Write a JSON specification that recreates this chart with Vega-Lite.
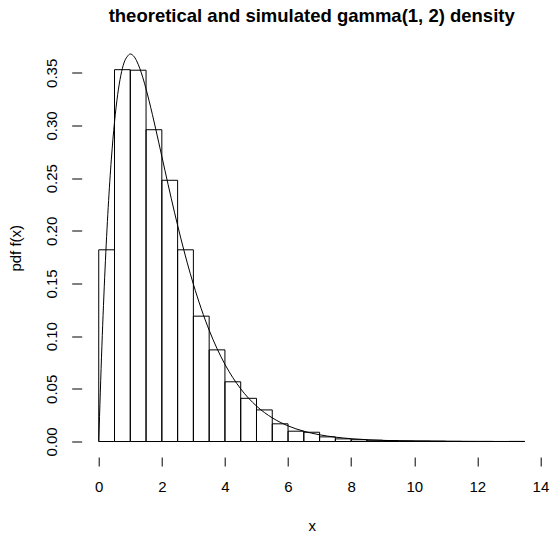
{
  "$schema": "https://vega.github.io/schema/vega-lite/v6.json",
  "width": 460,
  "height": 418.5,
  "autosize": {"type": "none"},
  "padding": {"left": 81.7, "top": 38.5, "right": 8.3, "bottom": 76},
  "background": "white",
  "config": {
    "font": "Liberation Sans",
    "view": {"stroke": null},
    "axis": {"grid": false, "domain": false, "tickColor": "black", "labelColor": "black", "titleColor": "black", "labelFont": "Liberation Sans", "titleFont": "Liberation Sans", "labelFontSize": 15, "titleFontSize": 15, "titleFontWeight": "normal", "tickWidth": 1}
  },
  "title": {"text": "theoretical and simulated gamma(1, 2) density", "fontSize": 18.5, "fontWeight": "bold", "font": "Liberation Sans", "anchor": "middle", "baseline": "alphabetic", "offset": 17, "dy": 18.5, "frame": "group", "color": "black"},
  "datasets": {
    "hist": [
      {"lo": 0, "hi": 0.5, "density": 0.182},
      {"lo": 0.5, "hi": 1, "density": 0.353},
      {"lo": 1, "hi": 1.5, "density": 0.3525},
      {"lo": 1.5, "hi": 2, "density": 0.296},
      {"lo": 2, "hi": 2.5, "density": 0.248},
      {"lo": 2.5, "hi": 3, "density": 0.182},
      {"lo": 3, "hi": 3.5, "density": 0.119},
      {"lo": 3.5, "hi": 4, "density": 0.087},
      {"lo": 4, "hi": 4.5, "density": 0.0567},
      {"lo": 4.5, "hi": 5, "density": 0.041},
      {"lo": 5, "hi": 5.5, "density": 0.030},
      {"lo": 5.5, "hi": 6, "density": 0.0168},
      {"lo": 6, "hi": 6.5, "density": 0.0098},
      {"lo": 6.5, "hi": 7, "density": 0.0088},
      {"lo": 7, "hi": 7.5, "density": 0.0044},
      {"lo": 7.5, "hi": 8, "density": 0.0025},
      {"lo": 8, "hi": 8.5, "density": 0.0017},
      {"lo": 8.5, "hi": 9, "density": 0.0012},
      {"lo": 9, "hi": 9.5, "density": 0.0009},
      {"lo": 9.5, "hi": 10, "density": 0.0006},
      {"lo": 10, "hi": 10.5, "density": 0.0005},
      {"lo": 10.5, "hi": 11, "density": 0.0004},
      {"lo": 11, "hi": 11.5, "density": 0.0002},
      {"lo": 11.5, "hi": 12, "density": 0.0001},
      {"lo": 12, "hi": 12.5, "density": 0.0001},
      {"lo": 12.5, "hi": 13, "density": 0.0},
      {"lo": 13, "hi": 13.5, "density": 0.0001}
    ],
    "curve": [
      {"x": 0, "f": 0},
      {"x": 0.1, "f": 0.09048},
      {"x": 0.2, "f": 0.16375},
      {"x": 0.3, "f": 0.22225},
      {"x": 0.4, "f": 0.26813},
      {"x": 0.5, "f": 0.30327},
      {"x": 0.6, "f": 0.32929},
      {"x": 0.7, "f": 0.34761},
      {"x": 0.8, "f": 0.35946},
      {"x": 0.9, "f": 0.36528},
      {"x": 1.0, "f": 0.36788},
      {"x": 1.1, "f": 0.36616},
      {"x": 1.2, "f": 0.36143},
      {"x": 1.3, "f": 0.35429},
      {"x": 1.4, "f": 0.34524},
      {"x": 1.5, "f": 0.3347},
      {"x": 1.6, "f": 0.32303},
      {"x": 1.7, "f": 0.31056},
      {"x": 1.8, "f": 0.29754},
      {"x": 1.9, "f": 0.28418},
      {"x": 2.0, "f": 0.27067},
      {"x": 2.2, "f": 0.24377},
      {"x": 2.4, "f": 0.21772},
      {"x": 2.6, "f": 0.19311},
      {"x": 2.8, "f": 0.17027},
      {"x": 3.0, "f": 0.14936},
      {"x": 3.25, "f": 0.12602},
      {"x": 3.5, "f": 0.10569},
      {"x": 3.75, "f": 0.08819},
      {"x": 4.0, "f": 0.07326},
      {"x": 4.5, "f": 0.04999},
      {"x": 5.0, "f": 0.03369},
      {"x": 5.5, "f": 0.02248},
      {"x": 6.0, "f": 0.01487},
      {"x": 6.5, "f": 0.00977},
      {"x": 7.0, "f": 0.00638},
      {"x": 7.5, "f": 0.00415},
      {"x": 8.0, "f": 0.00268},
      {"x": 9.0, "f": 0.00111},
      {"x": 10.0, "f": 0.00045},
      {"x": 11.0, "f": 0.000184},
      {"x": 12.0, "f": 0.0000737},
      {"x": 13.5, "f": 0.0000185}
    ]
  },
  "layer": [
    {
      "data": {"name": "hist"},
      "mark": {"type": "rect", "fill": null, "fillOpacity": 0, "stroke": "black", "strokeWidth": 1},
      "encoding": {
        "x": {"field": "lo", "type": "quantitative", "scale": {"domain": [-0.54, 14.04], "nice": false, "zero": false},
          "axis": {"values": [0, 2, 4, 6, 8, 10, 12, 14], "title": "x", "tickSize": 9, "labelBaseline": "middle", "labelPadding": 20, "titleY": 68, "titleBaseline": "middle", "format": "d", "labelFlush": false}},
        "x2": {"field": "hi"},
        "y": {"field": "density", "type": "quantitative", "scale": {"domain": [-0.0147, 0.3826], "nice": false, "zero": false},
          "axis": {"values": [0, 0.05, 0.1, 0.15, 0.2, 0.25, 0.3, 0.35], "format": ".2f", "title": "pdf f(x)", "tickSize": 10, "labelAngle": -90, "labelAlign": "center", "labelBaseline": "middle", "labelPadding": 20, "titleX": -66.7, "titleBaseline": "middle", "labelFlush": false}},
        "y2": {"datum": 0}
      }
    },
    {
      "data": {"name": "curve"},
      "mark": {"type": "line", "color": "black", "strokeWidth": 1, "interpolate": "monotone"},
      "encoding": {
        "x": {"field": "x", "type": "quantitative"},
        "y": {"field": "f", "type": "quantitative"}
      }
    },
    {
      "mark": {"type": "rule", "color": "black", "strokeWidth": 1},
      "encoding": {
        "x": {"datum": 0},
        "x2": {"datum": 14},
        "y": {"datum": -0.0147}
      }
    },
    {
      "mark": {"type": "rule", "color": "black", "strokeWidth": 1},
      "encoding": {
        "x": {"datum": -0.54},
        "y": {"datum": 0},
        "y2": {"datum": 0.35}
      }
    }
  ]
}
